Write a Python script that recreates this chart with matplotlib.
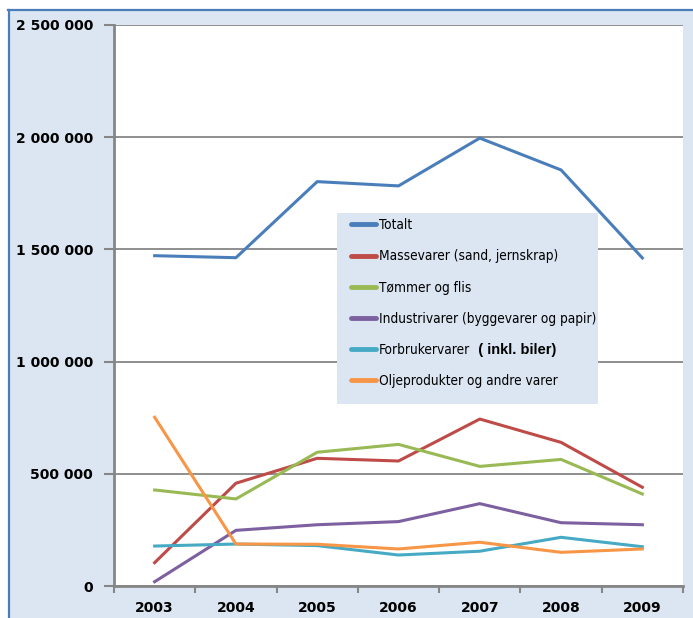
import numpy as np
import matplotlib
matplotlib.use("Agg")
import matplotlib.pyplot as plt
from matplotlib.patches import Rectangle
from matplotlib.lines import Line2D
from matplotlib.ticker import FuncFormatter

# Godsmengder per varegruppe (tonn)
years = ["2003", "2004", "2005", "2006", "2007", "2008", "2009"]
totalt = [1472000, 1463000, 1802000, 1783000, 1996000, 1854000, 1462000]
massevarer = [104000, 458000, 569000, 557000, 744000, 640000, 440000]
tommer = [428000, 388000, 596000, 631000, 533000, 564000, 410000]
industrivarer = [19000, 248000, 273000, 287000, 367000, 282000, 273000]
forbrukervarer = [178000, 187000, 180000, 138000, 155000, 217000, 175000]
oljeprodukter = [752000, 187000, 186000, 165000, 195000, 150000, 165000]

labels = ["Totalt", "Massevarer (sand, jernskrap)", "Tømmer og flis",
          "Industrivarer (byggevarer og papir)", "Forbrukervarer",
          "Oljeprodukter og andre varer"]
colors = ["#4a7ebb", "#be4b48", "#98b954", "#7d60a0", "#46aac5", "#f79646"]

BG = "#dce6f2"
GREY = "#868686"
W, H = 693, 618

fig = plt.figure(figsize=(W / 100, H / 100), dpi=100)
fig.patch.set_facecolor("white")

# bakgrunn med blå kant til venstre og oppe
fig.patches.append(Rectangle((8.5 / W, 0), 1, 1 - 10.5 / H, transform=fig.transFigure,
                             facecolor=BG, edgecolor="none", zorder=-2))
fig.lines.append(Line2D([8.5 / W, 8.5 / W], [0, 1 - 10 / H], transform=fig.transFigure,
                        color="#4a7ebb", lw=1.6, zorder=-1))
fig.lines.append(Line2D([8 / W, 1], [1 - 10 / H, 1 - 10 / H], transform=fig.transFigure,
                        color="#4a7ebb", lw=1.6, zorder=-1))

ax = fig.add_axes([114 / W, (H - 586) / H, (683 - 114) / W, (586 - 25) / H])
ax.set_zorder(1)
ax.set_facecolor("white")

x = np.arange(len(years))
series = [totalt, massevarer, tommer, industrivarer, forbrukervarer, oljeprodukter]
for s, c, lab in zip(series, colors, labels):
    ax.plot(x, s, color=c, lw=2.2, label=lab, solid_joinstyle="round", zorder=3)

ax.set_xlim(-0.5, len(years) - 0.5)
ax.set_ylim(0, 2500000)
ax.set_yticks(np.arange(0, 2500001, 500000))
ax.yaxis.set_major_formatter(FuncFormatter(lambda v, p: f"{int(v):,}".replace(",", " ")))
ax.set_xticks(x)
ax.set_xticklabels(years)
ax.set_xticks(np.arange(-0.5, len(years)), minor=True)
ax.tick_params(axis="x", which="major", length=0, pad=11)
ax.tick_params(axis="x", which="minor", length=5, width=1.5, color=GREY, direction="out")
ax.tick_params(axis="y", length=7, width=1.5, color=GREY, pad=8)
for t in ax.get_xticklabels() + ax.get_yticklabels():
    t.set_fontweight("bold")
    t.set_fontsize(10)
    t.set_family("DejaVu Sans")

ax.grid(axis="y", color=GREY, lw=1.3)
ax.set_axisbelow(True)
for side in ["top", "right"]:
    ax.spines[side].set_visible(False)
for side in ["left", "bottom"]:
    ax.spines[side].set_color(GREY)
    ax.spines[side].set_linewidth(2)

# tegnforklaring i egen boks
ax.add_patch(Rectangle((337 / W, 1 - 404 / H), (598 - 337) / W, (404 - 213) / H,
                       transform=fig.transFigure, facecolor=BG, edgecolor="none",
                       zorder=5, clip_on=False))
leg = ax.legend(loc="upper left", bbox_to_anchor=(339 / W, 1 - 206 / H),
                bbox_transform=fig.transFigure, frameon=False, borderpad=0.4,
                handlelength=1.8, handletextpad=0.25, labelspacing=1.26,
                prop={"family": "DejaVu Sans", "stretch": "condensed", "size": 9.8})
leg.set_zorder(6)
for ln in leg.get_lines():
    ln.set_linewidth(3.5)
    ln.set_solid_capstyle("round")
cyan_text = leg.get_texts()[4]
ax.annotate("  ( inkl. biler)", xy=(1, 0), xycoords=cyan_text, va="bottom", ha="left",
            fontsize=10.5, fontweight="bold", family="Liberation Sans", zorder=7,
            annotation_clip=False)

fig.savefig("out.png", dpi=100)
